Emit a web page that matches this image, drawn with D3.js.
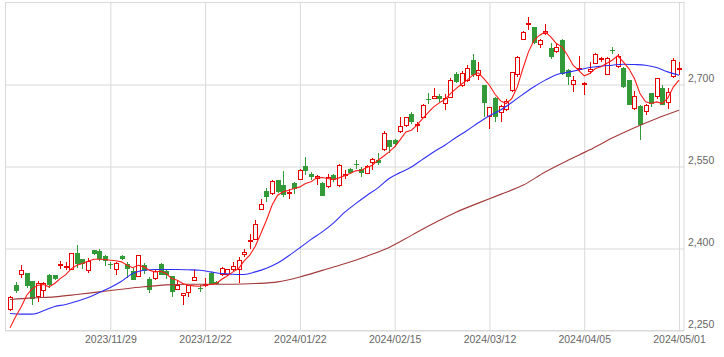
<!DOCTYPE html>
<html><head><meta charset="utf-8">
<script src="https://cdn.jsdelivr.net/npm/d3@7"></script>
<style>body{margin:0;background:#fff}svg{display:block}</style>
</head><body>
<svg id="chart" width="724" height="357"></svg>
<script>
// ---- DATA (TOPIX-like daily candles) ----
const dates = [
"2023/11/01","2023/11/02","2023/11/06","2023/11/07","2023/11/08","2023/11/09","2023/11/10","2023/11/13","2023/11/14","2023/11/15",
"2023/11/16","2023/11/17","2023/11/20","2023/11/21","2023/11/22","2023/11/24","2023/11/27","2023/11/28","2023/11/29","2023/11/30",
"2023/12/01","2023/12/04","2023/12/05","2023/12/06","2023/12/07","2023/12/08","2023/12/11","2023/12/12","2023/12/13","2023/12/14",
"2023/12/15","2023/12/18","2023/12/19","2023/12/20","2023/12/21","2023/12/22","2023/12/25","2023/12/26","2023/12/27","2023/12/28",
"2023/12/29","2024/01/04","2024/01/05","2024/01/09","2024/01/10","2024/01/11","2024/01/12","2024/01/15","2024/01/16","2024/01/17",
"2024/01/18","2024/01/19","2024/01/22","2024/01/23","2024/01/24","2024/01/25","2024/01/26","2024/01/29","2024/01/30","2024/01/31",
"2024/02/01","2024/02/02","2024/02/05","2024/02/06","2024/02/07","2024/02/08","2024/02/09","2024/02/13","2024/02/14","2024/02/15",
"2024/02/16","2024/02/19","2024/02/20","2024/02/21","2024/02/22","2024/02/26","2024/02/27","2024/02/28","2024/02/29","2024/03/01",
"2024/03/04","2024/03/05","2024/03/06","2024/03/07","2024/03/08","2024/03/11","2024/03/12","2024/03/13","2024/03/14","2024/03/15",
"2024/03/18","2024/03/19","2024/03/21","2024/03/22","2024/03/25","2024/03/26","2024/03/27","2024/03/28","2024/03/29","2024/04/01",
"2024/04/02","2024/04/03","2024/04/04","2024/04/05","2024/04/08","2024/04/09","2024/04/10","2024/04/11","2024/04/12","2024/04/15",
"2024/04/16","2024/04/17","2024/04/18","2024/04/19","2024/04/22","2024/04/23","2024/04/24","2024/04/25","2024/04/26","2024/04/30",
"2024/05/01"];

const open = [2287,2333,2352,2355,2340,2311,2322,2351,2351,2368, 2366,2360,2391,2380,2359,2397,2396,2386,2371,2361,
 2386,2371,2358,2348,2369,2345,2345,2371,2358,2349, 2325,2314,2318,2341,2328,2331,2355,2339,2351,2352,
 2360,2360,2388,2414,2416,2471,2505,2499,2525,2516, 2502,2520,2526,2551,2537,2528,2520,2512,2534,2515,
 2534,2546,2554,2546,2537,2557,2562,2580,2598,2599, 2613,2624,2646,2625,2639,2674,2674,2679,2665,2676,
 2720,2697,2707,2744,2715,2699,2640,2676,2647,2653, 2688,2718,2782,2809,2805,2773,2792,2766,2760,2782,
 2727,2699,2730,2701,2722,2738,2745,2718,2763,2732, 2730,2708,2655,2661,2649,2684,2677,2693,2666,2714,
 2729];
const high = [2313,2339,2369,2356,2341,2340,2339,2353,2352,2377, 2375,2391,2406,2381,2382,2398,2399,2388,2375,2375,
 2388,2376,2365,2389,2373,2347,2363,2373,2362,2350, 2343,2318,2334,2363,2333,2346,2357,2340,2366,2363,
 2376,2385,2400,2427,2452,2491,2510,2526,2526,2542, 2508,2522,2546,2568,2540,2534,2521,2536,2537,2554,
 2543,2548,2562,2549,2552,2565,2575,2615,2599,2601, 2640,2641,2649,2632,2664,2685,2693,2683,2683,2711,
 2723,2725,2735,2755,2741,2699,2659,2677,2663,2673, 2723,2752,2798,2823,2806,2784,2810,2776,2775,2784,
 2729,2715,2753,2705,2741,2757,2750,2751,2769,2755, 2732,2708,2688,2662,2665,2685,2712,2699,2693,2748,
 2741];
const low = [2285,2318,2346,2327,2296,2302,2311,2328,2343,2362, 2360,2360,2364,2363,2356,2389,2377,2368,2363,2352,
 2379,2346,2342,2347,2354,2318,2343,2351,2345,2312, 2324,2296,2312,2341,2321,2330,2333,2333,2350,2350,
 2358,2336,2384,2400,2415,2470,2485,2498,2502,2494, 2490,2499,2525,2534,2526,2516,2496,2510,2522,2513,
 2528,2536,2546,2531,2536,2544,2552,2578,2575,2585, 2612,2623,2627,2613,2638,2665,2674,2666,2654,2676,
 2702,2696,2705,2714,2708,2641,2618,2632,2632,2652, 2687,2714,2781,2799,2775,2766,2790,2746,2758,2717,
 2699,2687,2724,2680,2720,2737,2741,2717,2755,2731, 2693,2662,2653,2598,2644,2659,2674,2662,2656,2712,
 2717];
const close = [2311,2322,2360,2331,2307,2336,2336,2333,2344,2372, 2368,2391,2371,2372,2377,2390,2380,2377,2370,2374,
 2380,2363,2343,2388,2358,2325,2358,2352,2352,2321, 2333,2318,2334,2348,2327,2335,2335,2335,2365,2362,
 2368,2379,2394,2415,2444,2482,2494,2524,2504,2498, 2504,2508,2544,2542,2530,2532,2496,2530,2525,2552,
 2536,2538,2553,2538,2551,2563,2557,2612,2585,2591, 2624,2640,2632,2628,2662,2673,2679,2673,2676,2709,
 2705,2721,2731,2717,2727,2666,2658,2641,2661,2670, 2722,2751,2796,2813,2776,2781,2798,2751,2769,2720,
 2714,2708,2731,2702,2729,2755,2748,2749,2762,2752, 2696,2663,2679,2626,2662,2665,2711,2663,2687,2745,
 2730];

// short moving average (every day)
const maShort = [2254.8,2275,2293,2314.5,2326.7,2332.8,2334,2329.8,2336,2345, 2352.3,2363.3,2369.4,2372.5,2376.7,2380.4,2380.4,2379.8,2378.6,2377.5,
 2375.5,2369.4,2365,2369.4,2366.4,2360.3,2357.2,2358.4,2354.2,2345, 2342,2336,2332.8,2331.6,2331,2332.8,2334,2336,2343.8,2350,
 2357.2,2363.3,2377.3,2387.7,2404.2,2427.4,2451.7,2479.2,2497.5,2503.6, 2506.6,2509.7,2512.7,2518.8,2521.9,2529.2,2529.8,2528,2526.1,2529.2,
 2533,2537,2542,2543.2,2548,2552.3,2561.5,2568.8,2576.7,2585.9, 2599.3,2613.3,2616.3,2625.5,2637.7,2648.7,2659,2666.4,2672.5,2683.4,
 2692.6,2701,2707.9,2717,2721.3,2710.9,2698.7,2682.2,2670,2665.2, 2674.3,2695.6,2729.2,2759.7,2781,2790.2,2796.3,2787.1,2775,2768.8,
 2753.6,2735.3,2726,2715.8,2720,2729.2,2732.3,2738.4,2744.5,2752.4, 2741.4,2729.2,2710.9,2683.5,2668.2,2665.2,2668.2,2665.2,2675.6,2695.7,
 2707.9];

// medium moving average, read at these day indexes
const maMidDay = [0,2,4,6,8,10,12,14,16,18,20,22,24,26,28,30,32,34,36,38,40,42,44,46,48,50,52,54,56,58,
 60,62,64,66,68,70,72,74,76,78,80,82,84,86,88,90,92,94,96,98,100,102,104,106,108,110,112,114,116,118,120];
const maMid = [2281,2280,2280,2286,2294,2297.5,2303.6,2310.3,2319.4,2328.6,2340,2354.2,2360.3,2361.5,2361.5,2361.5,2361,2360.3,2357.2,2354.2,
 2353,2352.4,2357.2,2364,2373.5,2386.8,2401.4,2416.6,2430.4,2446.5, 2466,2482,2497,2511,2528,2539,2549,2563,2576.5,2589,
 2603,2616,2630,2643,2653.5,2667,2682,2696,2708,2718, 2722.2,2726.5,2731,2733.5,2735.3,2737.1,2736.5,2735.3,2731,2723.1,2717];

// long moving average, read at these day indexes
const maLongDay = [0,4,8,12,16,20,24,28,32,36,40,44,48,52,56,60,64,68,72,76,80,84,88,92,96,100,104,108,112,116,120];
const maLong = [2306.6,2309.7,2311.5,2315.8,2320.6,2325.5,2330,2333.5,2334.7,2334.7,2334.7,2335.9,2338.9,2348,2360,2372,2386,2402,2424,2446,
 2466.5,2483,2499,2515.5,2540,2561,2580.5,2602,2621,2638,2653];

const xTicks = ["2023/11/29","2023/12/22","2024/01/22","2024/02/15","2024/03/12","2024/04/05","2024/05/01"];
const yTicks = [2250,2400,2550,2700];

// ---- DRAW ----
const svg = d3.select("#chart");
const P = {left:5.5, right:684, top:2.5, bottom:330.5};
const x = d3.scalePoint().domain(dates).range([10,679]);
const y = d3.scaleLinear().domain([2250,2850]).range([P.bottom, P.top]);
const GRID = "#d9d9d9", RED = "#e60000", GREEN = "#339a3a";
const FONT = "'Liberation Sans', Arial, sans-serif";

svg.append("rect").attr("x",P.left).attr("y",P.top).attr("width",P.right-P.left).attr("height",P.bottom-P.top)
  .attr("fill","#fff").attr("stroke",GRID).attr("stroke-width",1);

const gx = svg.append("g").attr("transform",`translate(0,${P.bottom})`)
  .call(d3.axisBottom(x).tickValues(xTicks).tickSize(-(P.bottom-P.top)).tickPadding(5));
gx.select(".domain").remove();
gx.selectAll("line").attr("stroke",GRID);
gx.selectAll("text").attr("fill","#666").attr("font-family",FONT).attr("font-size","10.5px");

const gy = svg.append("g").attr("transform",`translate(${P.right},0)`)
  .call(d3.axisRight(y).tickValues(yTicks).tickSize(-(P.right-P.left)).tickPadding(4).tickFormat(d3.format(",")));
gy.select(".domain").remove();
gy.selectAll("line").attr("stroke",GRID);
gy.selectAll("text").attr("fill","#666").attr("font-family",FONT).attr("font-size","10.5px").attr("dy","-0.27em");

const candles = dates.map((d,i)=>({d, o:open[i], h:high[i], l:low[i], c:close[i], up: close[i] >= open[i]}));
const cg = svg.append("g");
candles.forEach(k=>{
  const cx = Math.round(x(k.d));
  const col = k.up ? RED : GREEN;
  cg.append("line").attr("x1",cx+0.5).attr("x2",cx+0.5)
    .attr("y1",Math.round(y(k.h))).attr("y2",Math.round(y(k.l)))
    .attr("stroke",col).attr("stroke-width",1);
  const top = Math.round(y(Math.max(k.o,k.c))), bot = Math.round(y(Math.min(k.o,k.c)));
  if (k.up) {
    cg.append("rect").attr("x",cx-1.5).attr("y",top+0.5).attr("width",4).attr("height",Math.max(bot-top-1,1))
      .attr("fill","#fff").attr("stroke",RED).attr("stroke-width",1);
  } else {
    cg.append("rect").attr("x",cx-2).attr("y",top).attr("width",5).attr("height",Math.max(bot-top,1))
      .attr("fill",GREEN);
  }
});

const lineShort = d3.line().x(d=>x(d.d)).y(d=>y(d.v));
const lineSmooth = d3.line().x(d=>x(d.d)).y(d=>y(d.v)).curve(d3.curveMonotoneX);

svg.append("path").datum(maLongDay.map((di,j)=>({d:dates[di], v:maLong[j]})))
  .attr("d",lineSmooth).attr("fill","none").attr("stroke","#a33a3a").attr("stroke-width",1.1);
svg.append("path").datum(maMidDay.map((di,j)=>({d:dates[di], v:maMid[j]})))
  .attr("d",lineSmooth).attr("fill","none").attr("stroke","#2f2ff5").attr("stroke-width",1.1);
svg.append("path").datum(maShort.map((v,i)=>({d:dates[i], v})))
  .attr("d",lineShort).attr("fill","none").attr("stroke","#ff1a1a").attr("stroke-width",1.1);
</script>
</body></html>
